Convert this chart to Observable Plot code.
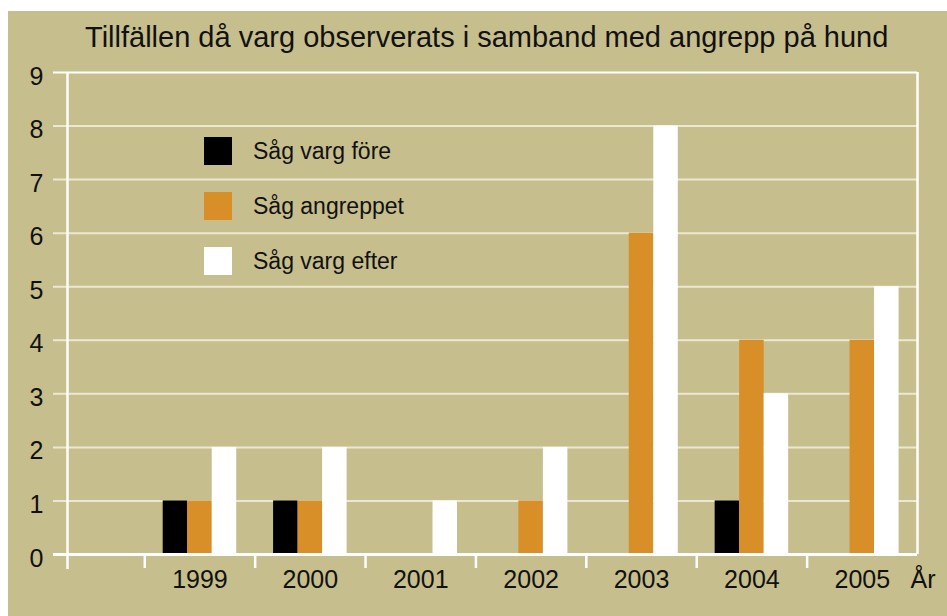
<!DOCTYPE html>
<html>
<head>
<meta charset="utf-8">
<script src="https://cdn.jsdelivr.net/npm/d3@7"></script>
<script src="https://cdn.jsdelivr.net/npm/@observablehq/plot@0.6"></script>
<style>
  html, body { margin: 0; padding: 0; background: #ffffff; }
  body { font-family: "Liberation Sans", Arial, sans-serif; width: 947px; height: 616px; position: relative; overflow: hidden; }
  #panel { position: absolute; left: 8px; top: 11px; width: 939px; height: 605px; background: #c6be8c; }
  #chart { position: absolute; left: 0; top: 0; }
  #title { position: absolute; left: 77px; top: 11.5px; font-size: 29px; line-height: 29px; white-space: nowrap; color: #111; }
  #legend { position: absolute; left: 196px; top: 126px; display: flex; flex-direction: column; gap: 27px; }
  .item { display: flex; align-items: center; height: 28px; }
  .sw { width: 28px; height: 28px; margin-right: 21px; }
  .lab { font-size: 23px; line-height: 28px; color: #111; white-space: nowrap; }
</style>
</head>
<body>
<div id="panel">
  <div id="chart"></div>
  <div id="title">Tillfällen då varg observerats i samband med angrepp på hund</div>
  <div id="legend"></div>
</div>
<script>
// ---- Data ----
const years = [1999, 2000, 2001, 2002, 2003, 2004, 2005];
const sagVargFore   = [1, 1, 0, 0, 0, 1, 0];
const sagAngreppet  = [1, 1, 0, 1, 6, 4, 4];
const sagVargEfter  = [2, 2, 1, 2, 8, 3, 5];
const seriesNames   = ["Såg varg före", "Såg angreppet", "Såg varg efter"];
const seriesColors  = ["#000000", "#d88f27", "#ffffff"];
const yTicks = [0, 1, 2, 3, 4, 5, 6, 7, 8, 9];
const xAxisTitle = "År";

// ---- Layout ----
const W = 939, H = 605;
const marginLeft = 59, marginRight = 30, marginTop = 61, marginBottom = 62;
const xMin = 1997.8, xMax = 2005.5;
const pxPerYear = (W - marginLeft - marginRight) / (xMax - xMin);
const pxPerUnit = (H - marginTop - marginBottom) / 9;
const barW = 0.222;
const tickLen = 14;
const gridStart = xMin - tickLen / pxPerYear;
const tickBottom = -tickLen / pxPerUnit;
const axisBottom = -15 / pxPerUnit;

const seriesValues = [sagVargFore, sagAngreppet, sagVargEfter];
const rows = years.flatMap((yr, i) => seriesValues.map((vals, k) => ({
  year: yr, k, series: seriesNames[k], value: vals[i]
}))).filter(d => d.value > 0);
const edges = years.slice(0, -1).map(y => y + 0.5).concat([years[0] - 0.5]);

const chart = Plot.plot({
  width: W,
  height: H,
  marginLeft, marginRight, marginTop, marginBottom,
  style: { background: "transparent", fontFamily: "Liberation Sans, Arial, sans-serif", color: "#111", overflow: "visible" },
  x: { domain: [xMin, xMax], axis: null },
  y: { domain: [0, 9], axis: null },
  color: { domain: seriesNames, range: seriesColors },
  marks: [
    Plot.ruleY(yTicks.filter(d => d > 0 && d < 9), { y: d => d, x1: gridStart, x2: xMax, stroke: "#ece7d4", strokeWidth: 2 }),
    Plot.ruleY([9], { y: d => d, x1: gridStart, x2: xMax, stroke: "#ffffff", strokeWidth: 2 }),
    Plot.rect(rows, {
      x1: d => d.year + (d.k - 1.5) * barW,
      x2: d => d.year + (d.k - 0.5) * barW,
      y1: 0,
      y2: "value",
      fill: "series"
    }),
    Plot.ruleY([0], { y: d => d, x1: gridStart, x2: xMax, stroke: "#ffffff", strokeWidth: 3 }),
    Plot.ruleX([xMin], { x: d => d, y1: axisBottom, y2: 9, stroke: "#ffffff", strokeWidth: 2.5 }),
    Plot.ruleX([xMax], { x: d => d, y1: 0, y2: 9, stroke: "#ffffff", strokeWidth: 2.5 }),
    Plot.ruleX(edges, { x: d => d, y1: tickBottom, y2: 0, stroke: "#ffffff", strokeWidth: 2.5 }),
    Plot.text(yTicks, { y: d => d, text: d => String(d), frameAnchor: "left", dx: -24, dy: 4, textAnchor: "end", fontSize: 25, fill: "#111" }),
    Plot.text(years, { x: d => d, text: d => String(d), frameAnchor: "bottom", dy: 33, fontSize: 25, fill: "#111" }),
    Plot.text([xAxisTitle], { text: d => d, frameAnchor: "bottom-right", dx: 18, dy: 33, textAnchor: "end", fontSize: 25, fill: "#111" })
  ]
});
document.getElementById("chart").appendChild(chart);

// ---- Legend ----
const legend = document.getElementById("legend");
seriesNames.forEach((name, k) => {
  const item = document.createElement("div");
  item.className = "item";
  const sw = document.createElement("div");
  sw.className = "sw";
  sw.style.background = seriesColors[k];
  const lab = document.createElement("div");
  lab.className = "lab";
  lab.textContent = name;
  item.appendChild(sw);
  item.appendChild(lab);
  legend.appendChild(item);
});
</script>
</body>
</html>
